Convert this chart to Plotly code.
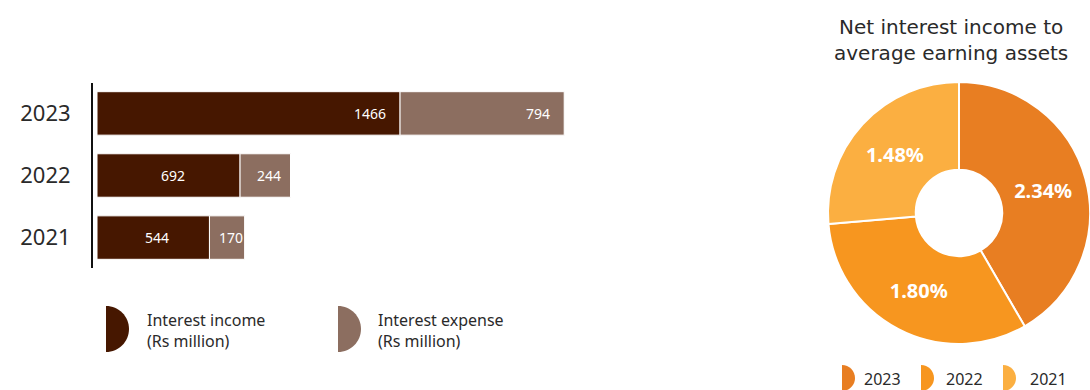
import plotly.graph_objects as go

# Interest income / expense (Rs million)
years = ["2021", "2022", "2023"]
interest_income = [544, 692, 1466]
interest_expense = [170, 244, 794]

# Net interest income to average earning assets (%)
nim_years = ["2023", "2022", "2021"]
nim_values = [2.34, 1.80, 1.48]

INCOME_COLOR = "#461700"
EXPENSE_COLOR = "#8C6E60"
NIM_COLORS = ["#E87E22", "#F7961F", "#FBAF41"]
TEXT_COLOR = "#2a2a2a"
FONT = "Noto Sans"
TITLE_FONT = "DejaVu Sans"

W, H = 1090, 390


def px(x):
    return x / W


def py(y):
    return 1 - y / H


fig = go.Figure()

fig.add_trace(go.Bar(
    y=years, x=interest_income, orientation="h", name="Interest income",
    marker=dict(color=INCOME_COLOR, line=dict(color="white", width=1)),
    width=0.7, hoverinfo="x",
))
fig.add_trace(go.Bar(
    y=years, x=interest_expense, base=interest_income, orientation="h",
    name="Interest expense",
    marker=dict(color=EXPENSE_COLOR, line=dict(color="white", width=1)),
    width=0.7, hoverinfo="x",
))

# value labels: the latest year is labelled at the end of each segment,
# earlier years in the middle
annotations = []
for row, (yr, inc, exp) in enumerate(zip(years, interest_income,
                                         interest_expense)):
    for start, val in ((0, inc), (inc, exp)):
        latest = row == len(years) - 1
        annotations.append(dict(
            x=start + val if latest else start + val / 2, y=row,
            xref="x", yref="y", text=str(val), showarrow=False,
            xanchor="right" if latest else "center",
            xshift=-12 if latest else 4,
            font=dict(family=FONT, size=14, color="white")))

fig.add_trace(go.Pie(
    labels=nim_years, values=nim_values, hole=0.33, sort=False,
    direction="clockwise", rotation=0,
    marker=dict(colors=NIM_COLORS, line=dict(color="white", width=2)),
    texttemplate="%{value:.2f}%", textposition="inside",
    insidetextorientation="horizontal",
    textfont=dict(family=FONT, size=20, color="white", weight="bold"),
    domain=dict(x=[px(828), 1.0], y=[py(345), py(81)]),
    showlegend=False, hoverinfo="label+value",
))

# chart title above the doughnut
annotations.append(dict(
    x=px(951), y=py(40), xref="paper", yref="paper",
    text="Net interest income to<br>average earning assets",
    showarrow=False, xanchor="center", yanchor="middle", align="center",
    font=dict(family=TITLE_FONT, size=20, color=TEXT_COLOR)))


def half_disc(x_left, y_mid, r, color):
    k = 0.5523 * r
    path = (f"M 0,{r} C {k},{r} {r},{k} {r},0 "
            f"C {r},{-k} {k},{-r} 0,{-r} Z")
    return dict(type="path", xref="paper", yref="paper",
                xsizemode="pixel", ysizemode="pixel",
                xanchor=px(x_left), yanchor=py(y_mid), path=path,
                fillcolor=color, line=dict(width=0), layer="above")


shapes = []
# bar legend
for x_icon, x_txt, label, color in (
        (106, 145, "Interest income<br>(Rs million)", INCOME_COLOR),
        (338, 376, "Interest expense<br>(Rs million)", EXPENSE_COLOR)):
    shapes.append(half_disc(x_icon, 329, 23, color))
    annotations.append(dict(
        x=px(x_txt), y=py(330), xref="paper", yref="paper", text=label,
        showarrow=False, xanchor="left", yanchor="middle", align="left",
        font=dict(family=FONT, size=16, color=TEXT_COLOR)))

# doughnut legend
for x_icon, x_txt, label, color in zip((842, 921, 1003), (862, 944, 1028),
                                       nim_years, NIM_COLORS):
    shapes.append(half_disc(x_icon, 378, 13, color))
    annotations.append(dict(
        x=px(x_txt), y=py(379), xref="paper", yref="paper", text=label,
        showarrow=False, xanchor="left", yanchor="middle",
        font=dict(family=FONT, size=16, color=TEXT_COLOR)))

fig.update_layout(
    width=W, height=H, margin=dict(l=0, r=0, t=0, b=0),
    paper_bgcolor="white", plot_bgcolor="white",
    barmode="overlay", showlegend=False,
    xaxis=dict(domain=[px(93), px(620)], range=[-19.4, 2530],
               showticklabels=False, showgrid=False, zeroline=False,
               showline=False, ticks="", fixedrange=True),
    yaxis=dict(domain=[py(268), py(83)], type="category",
               categoryorder="array", categoryarray=years,
               range=[-0.49, 2.49], showline=True, linecolor="#111111",
               linewidth=2, showgrid=False, zeroline=False, ticks="",
               ticklabelstandoff=16,
               tickfont=dict(family=FONT, size=22, color=TEXT_COLOR)),
    annotations=annotations, shapes=shapes,
)

fig.write_html("out.html")
